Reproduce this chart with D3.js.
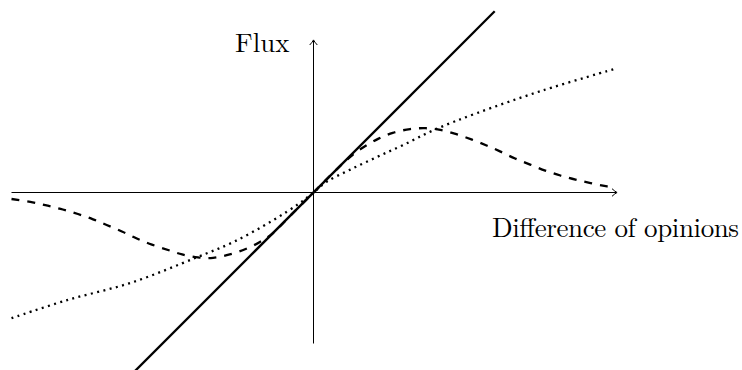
<!DOCTYPE html>
<meta charset="utf-8">
<style>
body { margin: 0; background: #fff; }
svg { display: block; }
.label { font-family: "Latin Modern Roman", "CMU Serif", "Liberation Serif", serif; font-size: 27px; fill: #000; }
.axis-line { stroke: #000; stroke-width: 1; }
.curve { fill: none; stroke: #000; stroke-width: 2.3; }
</style>
<body>
<script src="https://cdn.jsdelivr.net/npm/d3@7"></script>
<script>
var width = 742
var height = 370

// axis extents (in plot units)
var xExtent = [-4, 4]
var yExtent = [-2, 2]

// solid line: flux = difference
var linearX = [-2.4, 2.4]
var linearY = [-2.4, 2.4]

// dotted curve
var dottedX = [-4, -3.28, -2.4, -1.55, -1.07, -0.54, -0.19, 0, 0.175, 0.48, 0.84, 1.19, 1.6, 2.16, 3.03, 4]
var dottedY = [-1.665, -1.43, -1.19, -0.86, -0.66, -0.37, -0.146, 0, 0.143, 0.3, 0.47, 0.63, 0.83, 1.05, 1.35, 1.64]

// dashed curve
var dashedX = [-4, -3.72, -3.52, -3.32, -3.12, -2.92, -2.74, -2.53, -2.34, -2.14, -1.9, -1.74, -1.53, -1.33, -1.11, -0.88, -0.71, -0.54, -0.3, 0,
    0.3, 0.52, 0.71, 0.855, 1.05, 1.28, 1.48, 1.68, 1.9, 2.1, 2.3, 2.47, 2.67, 2.87, 3.07, 3.27, 3.47, 3.67, 3.89, 4]
var dashedY = [-0.086, -0.13, -0.175, -0.225, -0.285, -0.355, -0.43, -0.52, -0.61, -0.69, -0.77, -0.82, -0.86, -0.865, -0.82, -0.74, -0.655, -0.54, -0.3, 0,
    0.3, 0.5, 0.63, 0.71, 0.79, 0.84, 0.852, 0.83, 0.77, 0.7, 0.62, 0.545, 0.45, 0.37, 0.29, 0.225, 0.17, 0.125, 0.08, 0.06]

var xLabel = 'Difference of opinions'
var yLabel = 'Flux'

var x = d3.scaleLinear().domain(xExtent).range([11.5, 615.5])
var y = d3.scaleLinear().domain(yExtent).range([343.5, 41.5])

var svg = d3.select('body').append('svg')
    .attr('width', width)
    .attr('height', height)

svg.append('defs').append('marker')
    .attr('id', 'arrow')
    .attr('viewBox', '-6 -5 8 10')
    .attr('refX', 0)
    .attr('refY', 0)
    .attr('markerWidth', 8)
    .attr('markerHeight', 10)
    .attr('markerUnits', 'userSpaceOnUse')
    .attr('orient', 'auto')
    .append('path')
    .attr('d', 'M-4.5,-3.8 Q-1.5,-1 0.6,0 Q-1.5,1 -4.5,3.8')
    .attr('fill', 'none')
    .attr('stroke', '#000')
    .attr('stroke-width', 1)

// axes
svg.append('line')
    .attr('class', 'axis-line')
    .attr('x1', x(xExtent[0])).attr('y1', y(0))
    .attr('x2', x(xExtent[1]) + 1).attr('y2', y(0))
    .attr('marker-end', 'url(#arrow)')

svg.append('line')
    .attr('class', 'axis-line')
    .attr('x1', x(0)).attr('y1', y(yExtent[0]))
    .attr('x2', x(0)).attr('y2', y(yExtent[1]) - 1)
    .attr('marker-end', 'url(#arrow)')

var line = d3.line()
    .x(function (d) { return x(d[0]) })
    .y(function (d) { return y(d[1]) })

var smooth = d3.line()
    .x(function (d) { return x(d[0]) })
    .y(function (d) { return y(d[1]) })
    .curve(d3.curveCatmullRom.alpha(0.5))

svg.append('path')
    .attr('class', 'curve')
    .attr('d', line(d3.zip(linearX, linearY)))

svg.append('path')
    .attr('class', 'curve')
    .attr('stroke-dasharray', '2,4.4')
    .attr('d', smooth(d3.zip(dottedX, dottedY)))

svg.append('path')
    .attr('class', 'curve')
    .attr('stroke-dasharray', '7.95,7.95')
    .attr('d', smooth(d3.zip(dashedX, dashedY)))

// labels
svg.append('text')
    .attr('class', 'label')
    .attr('x', x(0) - 24)
    .attr('y', y(yExtent[1]) + 10)
    .attr('text-anchor', 'end')
    .text(yLabel)

svg.append('text')
    .attr('class', 'label')
    .attr('x', 492)
    .attr('y', y(0) + 44)
    .attr('textLength', 247)
    .attr('lengthAdjust', 'spacing')
    .text(xLabel)
</script>
</body>
